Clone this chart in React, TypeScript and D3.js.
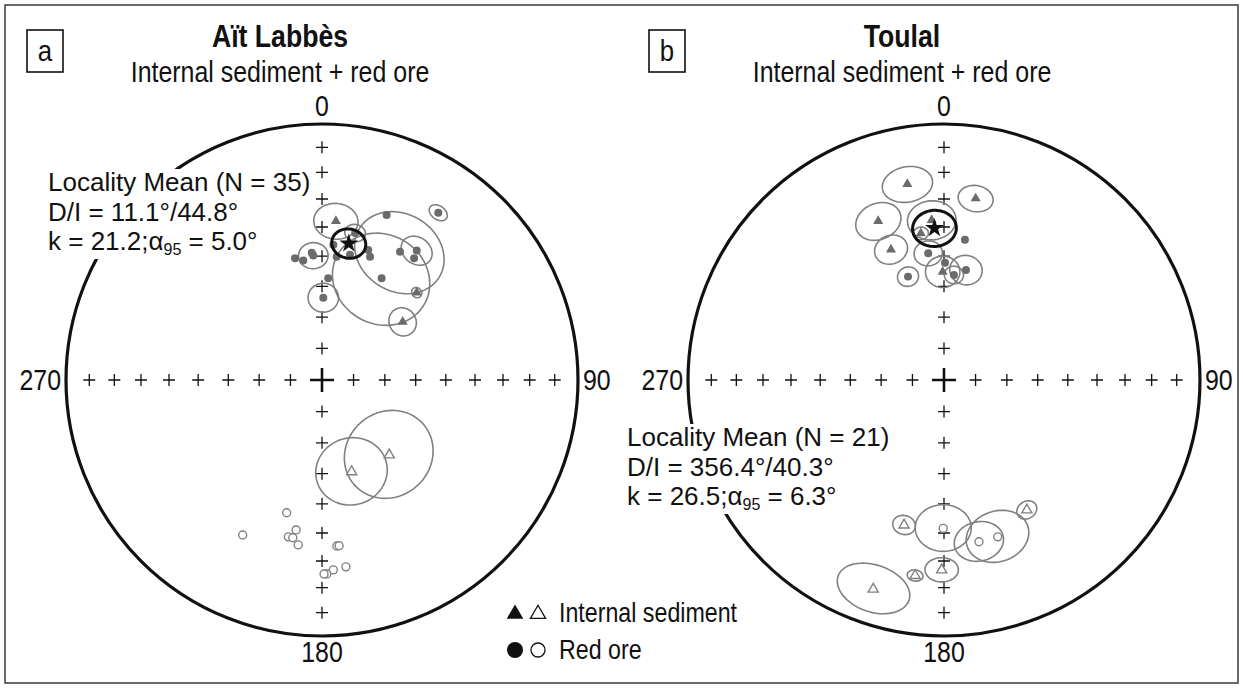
import React from "react";
import * as d3 from "d3";

document.body.style.margin = "0";

// [declination, inclination, a95]  (a95 = 0 -> no confidence circle drawn)
// negative inclination = upper hemisphere (open symbols)
const aitSediment = [
  [5.0, 37.7, 6.3],
  [54.2, 58.1, 4.4],
  [47.3, 48.3, 1.6],
  [162.1, -59.1, 11],
  [138.1, -57.7, 14],
];
const aitOre = [
  [21.4, 31.4, 0],
  [347.5, 49.7, 0],
  [351.1, 51.0, 0],
  [355.4, 48.7, 0],
  [356.0, 49.7, 4.4],
  [3.5, 57.3, 0],
  [0.9, 63.7, 4.7],
  [12.6, 48.5, 0],
  [19.6, 45.2, 0],
  [21.3, 47.1, 0],
  [30.4, 52.0, 15],
  [31.3, 41.0, 13.5],
  [36.2, 37.4, 4.7],
  [37.1, 40.1, 0],
  [34.8, 21.5, 2.6],
  [4.8, 46.0, 0],
  [6.8, 49.9, 0],
  [12.7, 40.8, 3.0],
  [194.9, -45.4, 0],
  [207.1, -32.5, 0],
  [189.8, -40.3, 0],
  [192.1, -37.4, 0],
  [190.5, -37.4, 0],
  [188.2, -35.2, 0],
  [174.9, -35.2, 0],
  [174.1, -35.2, 0],
  [172.7, -27.3, 0],
  [176.6, -26.6, 0],
  [178.6, -25.2, 0],
  [179.4, -25.2, 0],
];
const toulalSediment = [
  [349.4, 23.2, 6.7],
  [9.9, 28.8, 4.8],
  [337.5, 33.3, 6.5],
  [337.9, 44.2, 4.9],
  [355.6, 37.4, 6.9],
  [351.0, 41.6, 2.2],
  [359.3, 55.2, 5.2],
  [195.4, -40.9, 3.3],
  [147.5, -39.6, 3.0],
  [180.7, -26.7, 4.5],
  [188.4, -23.8, 2.1],
  [198.7, -14.8, 9.4],
];
const toulalOre = [
  [352.9, 48.7, 4.2],
  [8.5, 43.9, 0],
  [0.5, 52.2, 0],
  [5.4, 56.1, 2.9],
  [11.3, 53.9, 4.9],
  [340.8, 54.8, 3.2],
  [180.3, -41.6, 8.1],
  [167.8, -35.6, 7.0],
  [161.1, -35.5, 9.0],
];
const aitMean = [11.1, 44.8, 5.0];
const toulalMean = [356.4, 40.3, 6.3];
const aitText = ["Locality Mean (N = 35)", "D/I = 11.1°/44.8°", ["k = 21.2;α", "95", " = 5.0°"]];
const toulalText = ["Locality Mean (N = 21)", "D/I = 356.4°/40.3°", ["k = 26.5;α", "95", " = 6.3°"]];
const inclTicks = [80, 70, 60, 50, 40, 30, 20, 10];
const azLabels = [0, 90, 180, 270];

const W = 1243;
const H = 688;
const R = 256;
const CY = 380;
const FONT = "'Liberation Sans',Arial,sans-serif";
const SX = 0.86; // the original lettering is a narrow sans
const GREY_FILL = "#6b6b6b";
const GREY_LINE = "#808080";
const rad = Math.PI / 180;

// equal-area: radius = R * sqrt(1 - sin|I|)
const rScale = d3.scaleSqrt().domain([0, 1]).range([0, R]);
const aScale = d3.scaleLinear().domain([0, 360]).range([0, 2 * Math.PI]);

function project(cx: number, dec: number, inc: number) {
  const r = rScale(1 - Math.sin(Math.abs(inc) * rad));
  const a = aScale(dec);
  return [cx + r * Math.sin(a), CY - r * Math.cos(a)] as [number, number];
}

// small circle of radius a95 round a direction, as projected path
function confPath(cx: number, dec: number, inc: number, a95: number) {
  const D = dec * rad, I = Math.abs(inc) * rad, A = a95 * rad;
  const v = [Math.cos(I) * Math.cos(D), Math.cos(I) * Math.sin(D), Math.sin(I)];
  const e1 = [-Math.sin(D), Math.cos(D), 0];
  const e2 = [-Math.sin(I) * Math.cos(D), -Math.sin(I) * Math.sin(D), Math.cos(I)];
  const pts = d3.range(0, 360, 5).map((t) => {
    const T = t * rad;
    const p = [0, 1, 2].map(
      (j) => Math.cos(A) * v[j] + Math.sin(A) * (Math.cos(T) * e1[j] + Math.sin(T) * e2[j])
    );
    const d = Math.atan2(p[1], p[0]) / rad;
    const i = Math.asin(Math.max(-1, Math.min(1, p[2]))) / rad;
    return project(cx, (d + 360) % 360, i);
  });
  return d3.line()(pts) + "Z";
}

const triPath = d3.symbol(d3.symbolTriangle, 44)() as string;
const dotPath = d3.symbol(d3.symbolCircle, 50)() as string;
const starPath = d3.symbol(d3.symbolStar, 110)() as string;

// narrow text
const T = ({ x, y, size = 29, anchor = "start", bold = false, sx = SX, children }: any) => (
  <text transform={`translate(${x},${y}) scale(${sx},1)`} fontSize={size} textAnchor={anchor}
    fontWeight={bold ? "bold" : "normal"} fontFamily={FONT} fill="#111">
    {children}
  </text>
);

const Net = ({ cx, letter, title, sediment, ore, mean, text, textX, textY }: any) => {
  const crosses: [number, number][] = [];
  azLabels.forEach((az) => inclTicks.forEach((inc) => crosses.push(project(cx, az, inc))));
  const [mx, my] = project(cx, mean[0], mean[1]);
  const boxX = cx - 295;
  return (
    <g>
      <rect x={boxX} y={30} width={36} height={42} fill="none" stroke="#111" strokeWidth={1.6} />
      <T x={boxX + 18} y={61} size={30} anchor="middle">{letter}</T>
      <T x={cx - 42} y={47} size={31} anchor="middle" bold>{title}</T>
      <T x={cx - 42} y={82} anchor="middle">Internal sediment + red ore</T>

      <circle cx={cx} cy={CY} r={R} fill="none" stroke="#111" strokeWidth={3.2} />
      <T x={cx} y={CY - R - 8} anchor="middle">0</T>
      <T x={cx} y={CY + R + 26} anchor="middle">180</T>
      <T x={cx + R + 5} y={CY + 10}>90</T>
      <T x={cx - R - 5} y={CY + 10} anchor="end">270</T>

      {crosses.map(([x, y], i) => (
        <path key={i} d={`M${x - 6},${y}H${x + 6}M${x},${y - 6}V${y + 6}`} stroke="#111" strokeWidth={1.3} />
      ))}
      <path d={`M${cx - 12},${CY}H${cx + 12}M${cx},${CY - 12}V${CY + 12}`} stroke="#111" strokeWidth={2.6} />

      {/* white block behind the mean statistics */}
      <rect x={textX - 4} y={textY - 22} width={266} height={90} fill="#fff" />
      <T x={textX} y={textY} size={26} sx={1}>{text[0]}</T>
      <T x={textX} y={textY + 29.5} size={26} sx={1}>{text[1]}</T>
      <T x={textX} y={textY + 59} size={26} sx={1}>
        {text[2][0]}
        <tspan fontSize={16} dy={5}>{text[2][1]}</tspan>
        <tspan dy={-5}>{text[2][2]}</tspan>
      </T>

      {[...sediment, ...ore]
        .filter((d) => d[2] > 0)
        .map((d, i) => (
          <path key={"c" + i} d={confPath(cx, d[0], d[1], d[2])} fill="none" stroke={GREY_LINE} strokeWidth={1.6} />
        ))}
      {ore.map((d: number[], i: number) => {
        const [x, y] = project(cx, d[0], d[1]);
        const up = d[1] < 0;
        return (
          <path key={"o" + i} d={dotPath} transform={`translate(${x},${y})`}
            fill={up ? "#fff" : GREY_FILL} stroke={up ? GREY_LINE : "none"} strokeWidth={1.4} />
        );
      })}
      {sediment.map((d: number[], i: number) => {
        const [x, y] = project(cx, d[0], d[1]);
        const up = d[1] < 0;
        return (
          <path key={"s" + i} d={triPath} transform={`translate(${x},${y})`}
            fill={up ? "#fff" : GREY_FILL} stroke={up ? GREY_LINE : "none"} strokeWidth={1.4} />
        );
      })}

      <path d={confPath(cx, mean[0], mean[1], mean[2])} fill="none" stroke="#111" strokeWidth={3} />
      <path d={starPath} transform={`translate(${mx},${my})`} fill="#111" />
    </g>
  );
};

export default function App() {
  return (
    <svg width={W} height={H} style={{ display: "block", background: "#fff" }}>
      <rect x={5} y={5} width={1233} height={678} fill="none" stroke="#444" strokeWidth={1.6} />
      <Net cx={322} letter="a" title="Aït Labbès" sediment={aitSediment} ore={aitOre}
        mean={aitMean} text={aitText} textX={48} textY={191} />
      <Net cx={944} letter="b" title="Toulal" sediment={toulalSediment} ore={toulalOre}
        mean={toulalMean} text={toulalText} textX={627} textY={446} />

      <path d={d3.symbol(d3.symbolTriangle, 120)() as string} transform="translate(515,614)" fill="#111" />
      <path d={d3.symbol(d3.symbolTriangle, 100)() as string} transform="translate(538,614)" fill="#fff" stroke="#111" strokeWidth={1.3} />
      <T x={559} y={622} size={27}>Internal sediment</T>
      <circle cx={515} cy={650} r={8} fill="#111" />
      <circle cx={538} cy={650} r={7} fill="#fff" stroke="#111" strokeWidth={1.3} />
      <T x={559} y={659} size={27}>Red ore</T>
    </svg>
  );
}
